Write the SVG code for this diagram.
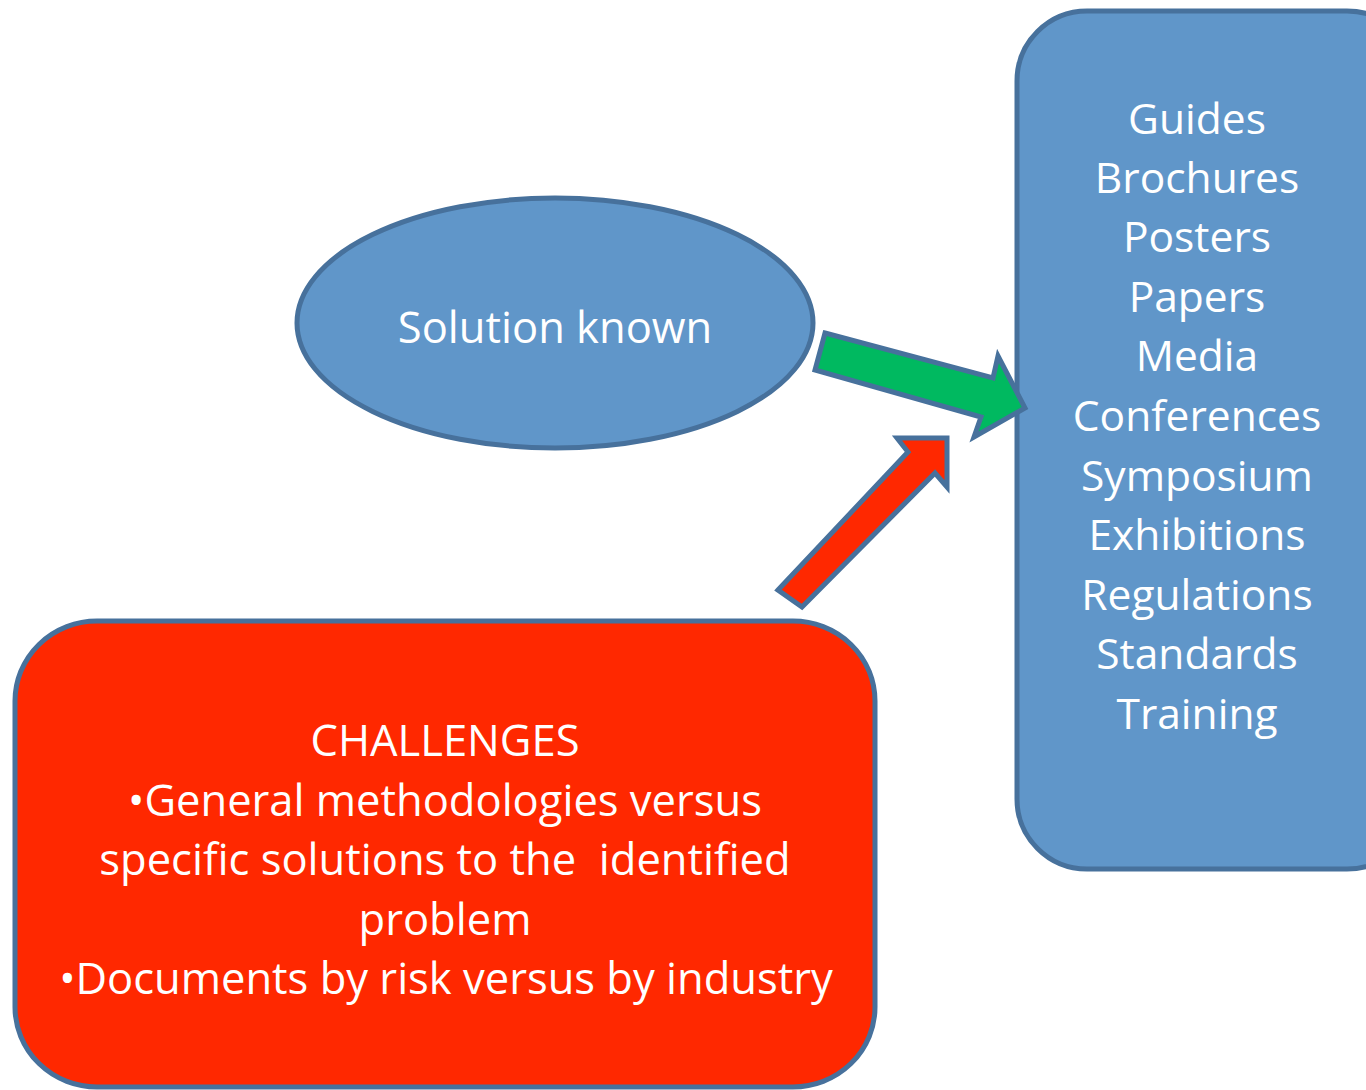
<svg xmlns="http://www.w3.org/2000/svg" width="1366" height="1090" viewBox="0 0 1366 1090">
<style>
.shape{stroke:#47719c;stroke-width:5;stroke-linejoin:miter}
.blue{fill:#6096c9}
.red{fill:#ff2800}
.green{fill:#00b960}
text{font-family:"Open Sans","Noto Sans","Liberation Sans",sans-serif;font-size:42.5px;fill:#ffffff;text-anchor:middle}
.big{font-size:43.5px}
</style>
<rect width="1366" height="1090" fill="#ffffff"/>
<g id="media-box">
<rect class="shape blue" x="1017" y="11" width="400" height="858" rx="70" ry="70"/>
<text x="1197" y="134">Guides</text>
<text x="1197" y="193">Brochures</text>
<text x="1197" y="252">Posters</text>
<text x="1197" y="312">Papers</text>
<text x="1197" y="371">Media</text>
<text x="1197" y="431">Conferences</text>
<text x="1197" y="491">Symposium</text>
<text x="1197" y="550">Exhibitions</text>
<text x="1197" y="610">Regulations</text>
<text x="1197" y="669">Standards</text>
<text x="1197" y="729">Training</text>
</g>
<g id="solution-known">
<ellipse class="shape blue" cx="555" cy="323" rx="258" ry="125"/>
<text class="big" x="555" y="343">Solution known</text>
</g>
<g id="challenges">
<rect class="shape red" x="15" y="621" width="860" height="466" rx="82" ry="80"/>
<text class="big" x="445" y="756">CHALLENGES</text>
<text class="big" x="445" y="816">•General methodologies versus</text>
<text class="big" x="445" y="875" xml:space="preserve">specific solutions to the  identified</text>
<text class="big" x="445" y="935">problem</text>
<text class="big" x="446" y="994">•Documents by risk versus by industry</text>
</g>
<g id="connectors">
<polygon class="shape green" points="825,333 993,378 998,356 1025,408 974,437 981,417 815,370"/>
<polygon class="shape red" points="778,590 908,452 897,438 947,438 947,487 935,473 802,607"/>
</g>
</svg>
